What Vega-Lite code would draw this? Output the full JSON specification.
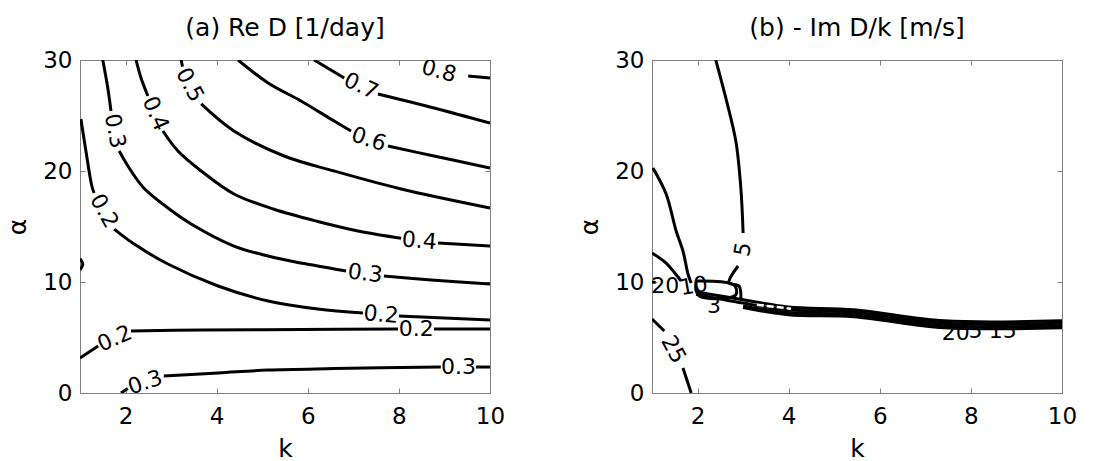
{
  "$schema": "https://vega.github.io/schema/vega-lite/v6.json",
  "background": "white",
  "padding": {"left": 5, "top": 15, "right": 5, "bottom": 0},
  "bounds": "flush",
  "spacing": 162,
  "config": {
    "font": "DejaVu Sans",
    "view": {"stroke": "#808080", "strokeWidth": 1},
    "axis": {
      "grid": false, "domain": false, "ticks": true,
      "tickColor": "#808080", "tickSize": -5, "tickWidth": 1,
      "labelFont": "DejaVu Sans", "labelFontSize": 23, "labelColor": "black",
      "labelFlush": false, "labelOverlap": false,
      "titleFont": "DejaVu Sans", "titleFontSize": 25, "titleFontWeight": "normal", "titleColor": "black"
    },
    "axisBottom": {"labelPadding": 17, "titlePadding": 8},
    "axisLeft": {"labelPadding": 13, "titlePadding": 12},
    "title": {"font": "DejaVu Sans", "fontSize": 25, "fontWeight": "normal", "color": "black", "frame": "group", "baseline": "alphabetic", "offset": 8}
  },
  "datasets": {
    "reD": [
      {"c": "L02a_1", "i": 0, "k": 1.02, "a": 24.68}, {"c": "L02a_1", "i": 1, "k": 1.13, "a": 21.8}, {"c": "L02a_1", "i": 2, "k": 1.26, "a": 18.65}, {"c": "L02a_1", "i": 3, "k": 1.31, "a": 18.02},
      {"c": "L02a_2", "i": 0, "k": 1.75, "a": 14.77}, {"c": "L02a_2", "i": 1, "k": 2.19, "a": 13.42}, {"c": "L02a_2", "i": 2, "k": 2.93, "a": 11.62}, {"c": "L02a_2", "i": 3, "k": 4.03, "a": 9.64}, {"c": "L02a_2", "i": 4, "k": 5.13, "a": 8.29}, {"c": "L02a_2", "i": 5, "k": 6.22, "a": 7.57}, {"c": "L02a_2", "i": 6, "k": 7.21, "a": 7.21},
      {"c": "L02a_3", "i": 0, "k": 8.0, "a": 6.94}, {"c": "L02a_3", "i": 1, "k": 10, "a": 6.58},
      {"c": "L03a_1", "i": 0, "k": 1.5, "a": 30}, {"c": "L03a_1", "i": 1, "k": 1.61, "a": 27.48}, {"c": "L03a_1", "i": 2, "k": 1.68, "a": 25.41},
      {"c": "L03a_2", "i": 0, "k": 1.86, "a": 21.8}, {"c": "L03a_2", "i": 1, "k": 2.08, "a": 20.27}, {"c": "L03a_2", "i": 2, "k": 2.4, "a": 18.47}, {"c": "L03a_2", "i": 3, "k": 2.93, "a": 16.67}, {"c": "L03a_2", "i": 4, "k": 3.44, "a": 15.23}, {"c": "L03a_2", "i": 5, "k": 4.38, "a": 13.24}, {"c": "L03a_2", "i": 6, "k": 5.13, "a": 12.34}, {"c": "L03a_2", "i": 7, "k": 5.85, "a": 11.71}, {"c": "L03a_2", "i": 8, "k": 6.84, "a": 10.99},
      {"c": "L03a_3", "i": 0, "k": 7.67, "a": 10.54}, {"c": "L03a_3", "i": 1, "k": 8.71, "a": 10.18}, {"c": "L03a_3", "i": 2, "k": 10, "a": 9.82},
      {"c": "L04_1", "i": 0, "k": 2.23, "a": 30}, {"c": "L04_1", "i": 1, "k": 2.34, "a": 28.38}, {"c": "L04_1", "i": 2, "k": 2.49, "a": 26.76},
      {"c": "L04_2", "i": 0, "k": 2.82, "a": 23.6}, {"c": "L04_2", "i": 1, "k": 3.15, "a": 21.8}, {"c": "L04_2", "i": 2, "k": 3.66, "a": 20.0}, {"c": "L04_2", "i": 3, "k": 4.38, "a": 17.93}, {"c": "L04_2", "i": 4, "k": 5.26, "a": 16.55}, {"c": "L04_2", "i": 5, "k": 6.22, "a": 15.45}, {"c": "L04_2", "i": 6, "k": 7.1, "a": 14.6}, {"c": "L04_2", "i": 7, "k": 8.05, "a": 13.95},
      {"c": "L04_3", "i": 0, "k": 8.86, "a": 13.51}, {"c": "L04_3", "i": 1, "k": 10, "a": 13.24},
      {"c": "L05_1", "i": 0, "k": 3.22, "a": 30}, {"c": "L05_1", "i": 1, "k": 3.25, "a": 29.4},
      {"c": "L05_2", "i": 0, "k": 3.66, "a": 26.04}, {"c": "L05_2", "i": 1, "k": 4.38, "a": 23.6}, {"c": "L05_2", "i": 2, "k": 5.48, "a": 21.35}, {"c": "L05_2", "i": 3, "k": 6.58, "a": 20.0}, {"c": "L05_2", "i": 4, "k": 8.05, "a": 18.38}, {"c": "L05_2", "i": 5, "k": 10, "a": 16.67},
      {"c": "L06_1", "i": 0, "k": 4.47, "a": 30}, {"c": "L06_1", "i": 1, "k": 5.13, "a": 27.93}, {"c": "L06_1", "i": 2, "k": 5.85, "a": 26.31}, {"c": "L06_1", "i": 3, "k": 6.58, "a": 24.5}, {"c": "L06_1", "i": 4, "k": 6.95, "a": 23.6},
      {"c": "L06_2", "i": 0, "k": 7.76, "a": 22.25}, {"c": "L06_2", "i": 1, "k": 8.77, "a": 21.35}, {"c": "L06_2", "i": 2, "k": 10, "a": 20.27},
      {"c": "L07_1", "i": 0, "k": 6.14, "a": 30}, {"c": "L07_1", "i": 1, "k": 6.8, "a": 28.38},
      {"c": "L07_2", "i": 0, "k": 7.54, "a": 26.94}, {"c": "L07_2", "i": 1, "k": 8.77, "a": 25.68}, {"c": "L07_2", "i": 2, "k": 10, "a": 24.32},
      {"c": "L08_1", "i": 0, "k": 9.52, "a": 28.56}, {"c": "L08_1", "i": 1, "k": 10, "a": 28.38},
      {"c": "L02b_1", "i": 0, "k": 1.0, "a": 3.15}, {"c": "L02b_1", "i": 1, "k": 1.4, "a": 4.23},
      {"c": "L02b_2", "i": 0, "k": 2.12, "a": 5.59}, {"c": "L02b_2", "i": 1, "k": 3.66, "a": 5.68}, {"c": "L02b_2", "i": 2, "k": 5.85, "a": 5.72}, {"c": "L02b_2", "i": 3, "k": 7.98, "a": 5.77},
      {"c": "L02b_3", "i": 0, "k": 8.77, "a": 5.77}, {"c": "L02b_3", "i": 1, "k": 10, "a": 5.77},
      {"c": "L03b_1", "i": 0, "k": 1.9, "a": 0}, {"c": "L03b_1", "i": 1, "k": 2.05, "a": 0.4},
      {"c": "L03b_2", "i": 0, "k": 2.84, "a": 1.53}, {"c": "L03b_2", "i": 1, "k": 4.03, "a": 1.8}, {"c": "L03b_2", "i": 2, "k": 5.13, "a": 2.07}, {"c": "L03b_2", "i": 3, "k": 6.58, "a": 2.2}, {"c": "L03b_2", "i": 4, "k": 8.92, "a": 2.34},
      {"c": "L03b_3", "i": 0, "k": 9.69, "a": 2.34}, {"c": "L03b_3", "i": 1, "k": 10, "a": 2.34},
      {"c": "Lblob", "i": 0, "k": 1.0, "a": 12.1}, {"c": "Lblob", "i": 1, "k": 1.06, "a": 11.6}, {"c": "Lblob", "i": 2, "k": 1.0, "a": 11.1}
    ],
    "reDLabels": [
      {"t": "0.2", "k": 1.53, "a": 16.4, "rot": 61},
      {"t": "0.2", "k": 7.61, "a": 7.07, "rot": 5},
      {"t": "0.3", "k": 1.77, "a": 23.6, "rot": 79},
      {"t": "0.3", "k": 7.26, "a": 10.77, "rot": 7},
      {"t": "0.4", "k": 2.66, "a": 25.18, "rot": 67},
      {"t": "0.4", "k": 8.45, "a": 13.72, "rot": 5},
      {"t": "0.5", "k": 3.41, "a": 27.75, "rot": 62},
      {"t": "0.6", "k": 7.34, "a": 22.85, "rot": 18},
      {"t": "0.7", "k": 7.17, "a": 27.66, "rot": 25},
      {"t": "0.8", "k": 8.88, "a": 29.0, "rot": 15},
      {"t": "0.2", "k": 1.76, "a": 4.91, "rot": -24},
      {"t": "0.2", "k": 8.38, "a": 5.77, "rot": 0},
      {"t": "0.3", "k": 2.43, "a": 0.95, "rot": -19},
      {"t": "0.3", "k": 9.31, "a": 2.34, "rot": 0}
    ],
    "imD": [
      {"c": "R5_1", "i": 0, "k": 2.4, "a": 30}, {"c": "R5_1", "i": 1, "k": 2.62, "a": 26.58}, {"c": "R5_1", "i": 2, "k": 2.84, "a": 22.7}, {"c": "R5_1", "i": 3, "k": 2.95, "a": 18.47}, {"c": "R5_1", "i": 4, "k": 3.0, "a": 14.41},
      {"c": "R5_2", "i": 0, "k": 2.89, "a": 11.44}, {"c": "R5_2", "i": 1, "k": 2.69, "a": 9.91}, {"c": "R5_2", "i": 2, "k": 2.91, "a": 9.64}, {"c": "R5_2", "i": 3, "k": 2.95, "a": 8.47},
      {"c": "R20", "i": 0, "k": 1.02, "a": 20.27}, {"c": "R20", "i": 1, "k": 1.31, "a": 17.93}, {"c": "R20", "i": 2, "k": 1.53, "a": 14.59}, {"c": "R20", "i": 3, "k": 1.68, "a": 12.79}, {"c": "R20", "i": 4, "k": 1.79, "a": 10.72}, {"c": "R20", "i": 5, "k": 1.86, "a": 9.91},
      {"c": "R15", "i": 0, "k": 1.0, "a": 12.61}, {"c": "R15", "i": 1, "k": 1.31, "a": 11.71}, {"c": "R15", "i": 2, "k": 1.5, "a": 10.81}, {"c": "R15", "i": 3, "k": 1.64, "a": 10.09},
      {"c": "R10", "i": 0, "k": 1.0, "a": 10.0}, {"c": "R10", "i": 1, "k": 1.08, "a": 9.95},
      {"c": "R25_1", "i": 0, "k": 1.0, "a": 6.67}, {"c": "R25_1", "i": 1, "k": 1.27, "a": 5.59},
      {"c": "R25_2", "i": 0, "k": 1.68, "a": 2.25}, {"c": "R25_2", "i": 1, "k": 1.86, "a": 0},
      {"c": "Rbox", "i": 0, "k": 1.97, "a": 10.09}, {"c": "Rbox", "i": 1, "k": 2.8, "a": 9.73}, {"c": "Rbox", "i": 2, "k": 2.84, "a": 8.83}, {"c": "Rbox", "i": 3, "k": 2.08, "a": 8.65}, {"c": "Rbox", "i": 4, "k": 1.97, "a": 9.2}, {"c": "Rbox", "i": 5, "k": 1.97, "a": 10.09},
      {"c": "Band1", "i": 0, "k": 1.97, "a": 9.1}, {"c": "Band1", "i": 1, "k": 3.0, "a": 8.4}, {"c": "Band1", "i": 2, "k": 3.99, "a": 7.75}, {"c": "Band1", "i": 3, "k": 5.43, "a": 7.5}, {"c": "Band1", "i": 4, "k": 7.41, "a": 6.5}, {"c": "Band1", "i": 5, "k": 10, "a": 6.5},
      {"c": "Band2", "i": 0, "k": 1.97, "a": 8.9}, {"c": "Band2", "i": 1, "k": 3.0, "a": 8.1}, {"c": "Band2", "i": 2, "k": 3.99, "a": 7.5}, {"c": "Band2", "i": 3, "k": 5.43, "a": 7.28}, {"c": "Band2", "i": 4, "k": 7.41, "a": 6.28}, {"c": "Band2", "i": 5, "k": 10, "a": 6.28},
      {"c": "Band3", "i": 0, "k": 3.0, "a": 7.85}, {"c": "Band3", "i": 1, "k": 3.99, "a": 7.25}, {"c": "Band3", "i": 2, "k": 5.43, "a": 7.06}, {"c": "Band3", "i": 3, "k": 7.41, "a": 6.06}, {"c": "Band3", "i": 4, "k": 10, "a": 6.06},
      {"c": "Band4", "i": 0, "k": 3.0, "a": 7.7}, {"c": "Band4", "i": 1, "k": 3.99, "a": 7.05}, {"c": "Band4", "i": 2, "k": 5.43, "a": 6.88}, {"c": "Band4", "i": 3, "k": 7.41, "a": 5.88}, {"c": "Band4", "i": 4, "k": 10, "a": 5.88}
    ],
    "imGap": [
      {"c": "G", "i": 0, "k": 3.3, "a": 7.95}, {"c": "G", "i": 1, "k": 4.05, "a": 7.6}
    ],
    "imDLabels": [
      {"t": "20", "k": 1.29, "a": 9.64, "rot": 0},
      {"t": "10", "k": 1.92, "a": 9.64, "rot": -10},
      {"t": "3", "k": 2.36, "a": 7.8, "rot": 0},
      {"t": "5", "k": 3.0, "a": 12.93, "rot": -80},
      {"t": "25", "k": 1.47, "a": 3.92, "rot": 62},
      {"t": "20", "k": 7.67, "a": 5.45, "rot": 0},
      {"t": "5", "k": 8.1, "a": 5.55, "rot": 0},
      {"t": "15", "k": 8.7, "a": 5.6, "rot": 0}
    ]
  },
  "hconcat": [
    {
      "width": 410, "height": 333,
      "title": "(a) Re D [1/day]",
      "layer": [
        {
          "data": {"name": "reD"},
          "mark": {"type": "line", "color": "black", "strokeWidth": 3, "interpolate": "catmull-rom", "clip": true, "strokeJoin": "round"},
          "encoding": {
            "x": {"field": "k", "type": "quantitative", "scale": {"domain": [1, 10], "nice": false, "zero": false}, "axis": {"orient": "bottom", "values": [2, 4, 6, 8, 10], "title": "k"}},
            "y": {"field": "a", "type": "quantitative", "scale": {"domain": [0, 30], "nice": false}, "axis": {"orient": "left", "values": [0, 10, 20, 30], "title": "α"}},
            "detail": {"field": "c"},
            "order": {"field": "i"}
          }
        },
        {
          "data": {"name": "reDLabels"},
          "mark": {"type": "text", "fontSize": 22, "align": "center", "baseline": "middle", "color": "black", "clip": true},
          "encoding": {
            "x": {"field": "k", "type": "quantitative", "axis": null},
            "y": {"field": "a", "type": "quantitative", "axis": null},
            "text": {"field": "t"},
            "angle": {"field": "rot", "type": "quantitative", "scale": null}
          }
        },
        {
          "data": {"name": "reD"},
          "mark": {"type": "point", "opacity": 0},
          "encoding": {
            "x": {"field": "k", "type": "quantitative", "axis": {"orient": "top", "values": [2, 4, 6, 8, 10], "labels": false, "title": null}},
            "y": {"field": "a", "type": "quantitative", "axis": {"orient": "right", "values": [0, 10, 20, 30], "labels": false, "title": null}}
          }
        }
      ]
    },
    {
      "width": 410, "height": 333,
      "title": "(b) - Im D/k [m/s]",
      "layer": [
        {
          "data": {"name": "imD"},
          "mark": {"type": "line", "color": "black", "strokeWidth": 3, "interpolate": "catmull-rom", "clip": true, "strokeJoin": "round"},
          "encoding": {
            "x": {"field": "k", "type": "quantitative", "scale": {"domain": [1, 10], "nice": false, "zero": false}, "axis": {"orient": "bottom", "values": [2, 4, 6, 8, 10], "title": "k"}},
            "y": {"field": "a", "type": "quantitative", "scale": {"domain": [0, 30], "nice": false}, "axis": {"orient": "left", "values": [0, 10, 20, 30], "title": "α"}},
            "detail": {"field": "c"},
            "order": {"field": "i"}
          }
        },
        {
          "data": {"name": "imGap"},
          "mark": {"type": "line", "color": "white", "strokeWidth": 2.5, "strokeDash": [7, 3], "clip": true},
          "encoding": {
            "x": {"field": "k", "type": "quantitative", "axis": null},
            "y": {"field": "a", "type": "quantitative", "axis": null},
            "order": {"field": "i"}
          }
        },
        {
          "data": {"name": "imDLabels"},
          "mark": {"type": "text", "fontSize": 22, "align": "center", "baseline": "middle", "color": "black", "clip": true},
          "encoding": {
            "x": {"field": "k", "type": "quantitative", "axis": null},
            "y": {"field": "a", "type": "quantitative", "axis": null},
            "text": {"field": "t"},
            "angle": {"field": "rot", "type": "quantitative", "scale": null}
          }
        },
        {
          "data": {"name": "imD"},
          "mark": {"type": "point", "opacity": 0},
          "encoding": {
            "x": {"field": "k", "type": "quantitative", "axis": {"orient": "top", "values": [2, 4, 6, 8, 10], "labels": false, "title": null}},
            "y": {"field": "a", "type": "quantitative", "axis": {"orient": "right", "values": [0, 10, 20, 30], "labels": false, "title": null}}
          }
        }
      ]
    }
  ]
}
